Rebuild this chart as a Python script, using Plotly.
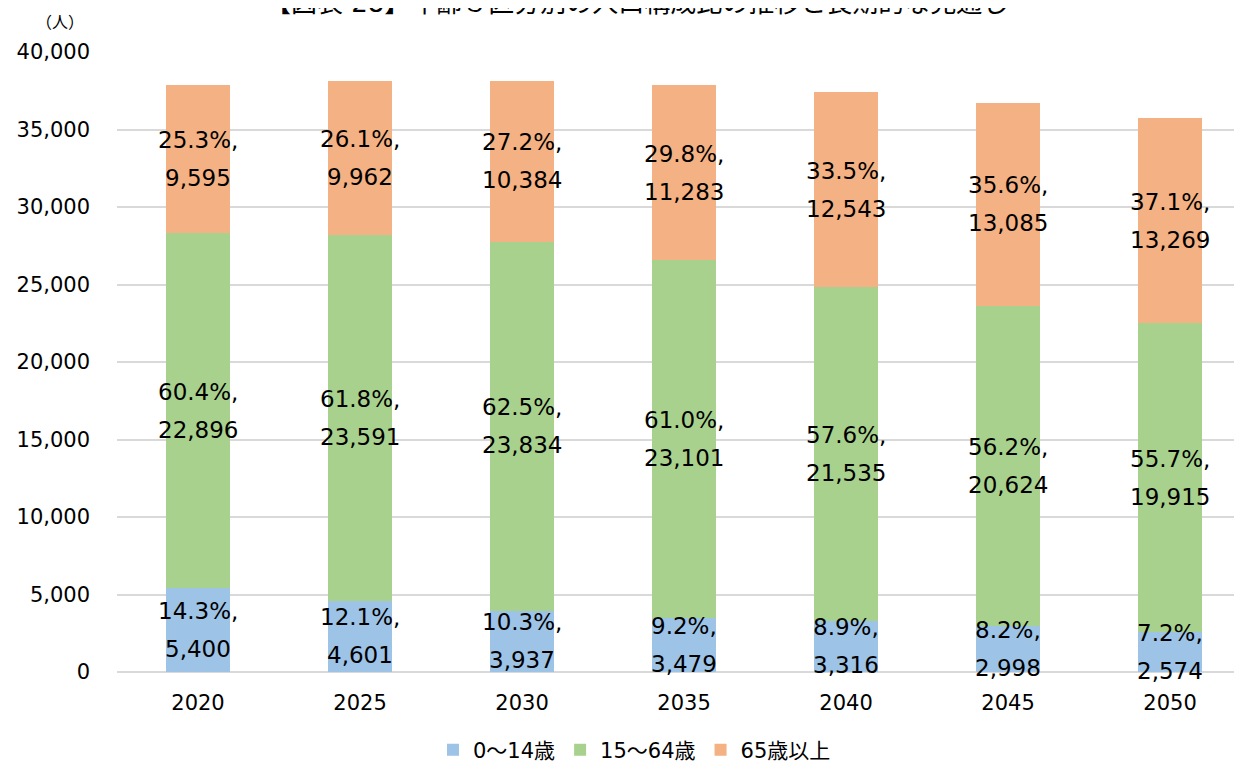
import plotly.graph_objects as go

years = ["2020", "2025", "2030", "2035", "2040", "2045", "2050"]
age_0_14 = [5400, 4601, 3937, 3479, 3316, 2998, 2574]
age_15_64 = [22896, 23591, 23834, 23101, 21535, 20624, 19915]
age_65_plus = [9595, 9962, 10384, 11283, 12543, 13085, 13269]
pct_0_14 = ["14.3%", "12.1%", "10.3%", "9.2%", "8.9%", "8.2%", "7.2%"]
pct_15_64 = ["60.4%", "61.8%", "62.5%", "61.0%", "57.6%", "56.2%", "55.7%"]
pct_65_plus = ["25.3%", "26.1%", "27.2%", "29.8%", "33.5%", "35.6%", "37.1%"]

FONT = "DejaVu Sans, Noto Sans CJK JP, sans-serif"
TITLE = "【図表 28】年齢３区分別の人口構成比の推移と長期的な見通し"

series = [
    ("0～14歳", age_0_14, pct_0_14, "#9DC3E6"),
    ("15～64歳", age_15_64, pct_15_64, "#A9D18E"),
    ("65歳以上", age_65_plus, pct_65_plus, "#F4B183"),
]

fig = go.Figure()
annotations = []
base = [0] * len(years)
for name, vals, pcts, col in series:
    fig.add_trace(go.Bar(x=years, y=vals, name=name, marker_color=col,
                         marker_line_width=0))
    # two-line label centred in each segment (index = category position)
    for i in range(len(years)):
        mid = base[i] + vals[i] / 2
        annotations.append(dict(x=i, y=mid, text=pcts[i] + ",", yshift=19,
                                showarrow=False, font=dict(size=23, color="black")))
        annotations.append(dict(x=i, y=mid, text=f"{vals[i]:,}", yshift=-19,
                                showarrow=False, font=dict(size=23, color="black")))
        base[i] += vals[i]

# unit label
annotations.append(dict(x=-0.051, y=1.048, xref="paper", yref="paper", text="（人）",
                        xanchor="center", yanchor="middle",
                        showarrow=False, font=dict(size=16, color="black")))
# title, partly above the top edge like the source
annotations.append(dict(x=0.4622, y=1.079, xref="paper", yref="paper", text=TITLE,
                        xanchor="center", yanchor="middle",
                        showarrow=False, font=dict(size=26, color="black")))

fig.update_layout(
    barmode="stack",
    bargap=0.6,
    width=1234, height=770,
    margin=dict(l=109, r=0, t=44, b=106),
    plot_bgcolor="white", paper_bgcolor="white",
    font=dict(family=FONT, size=21, color="black"),
    legend=dict(orientation="h", x=0.46, xanchor="center", y=-0.126,
                yanchor="middle", font=dict(size=21), traceorder="normal"),
    annotations=annotations,
    showlegend=True,
)
fig.update_xaxes(type="category", range=[-0.5, 6.444], showgrid=False, showline=False,
                 ticks="", tickfont=dict(size=21), automargin=False,
                 ticklabelstandoff=16)
fig.update_yaxes(range=[0, 40000], dtick=5000, tickformat=",",
                 gridcolor="#D9D9D9", gridwidth=1.5, zeroline=True,
                 zerolinecolor="#D9D9D9", zerolinewidth=1.5, automargin=False,
                 showline=False, ticks="", tickfont=dict(size=21),
                 ticklabelstandoff=26)
fig.write_html("out.html")
